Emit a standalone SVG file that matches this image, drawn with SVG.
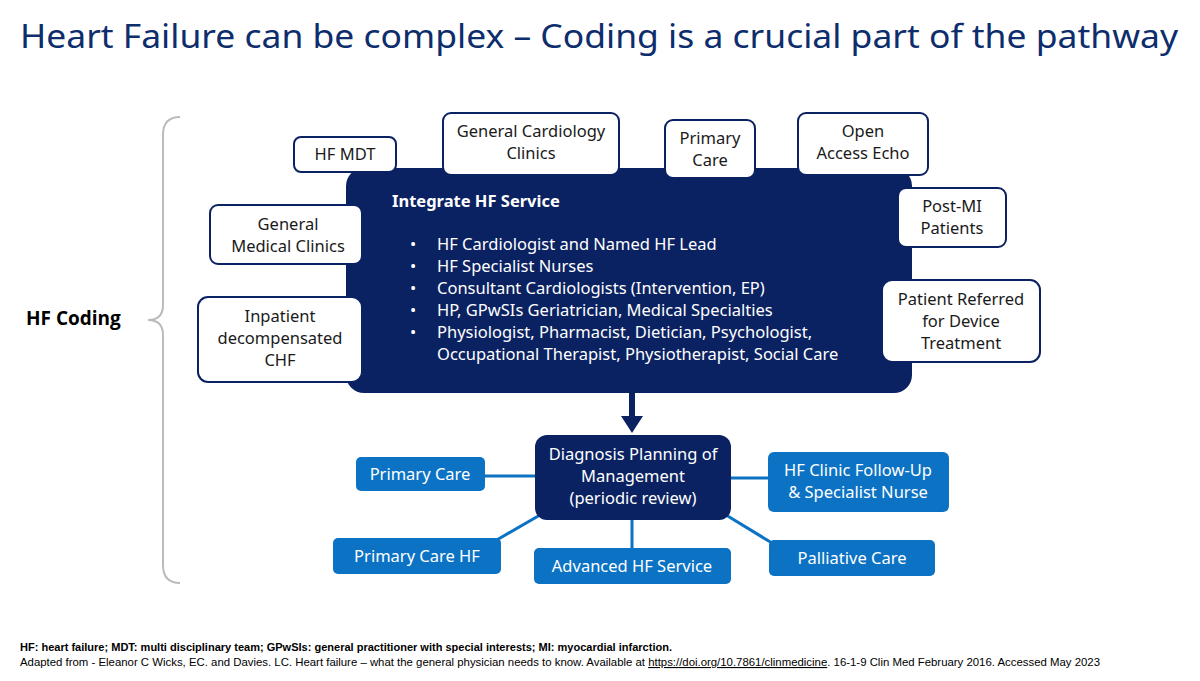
<svg xmlns="http://www.w3.org/2000/svg" width="1200" height="681" viewBox="0 0 1200 681">
<style>
text{font-family:"Noto Sans","Open Sans",sans-serif;}
.t{fill:#0d2d6c;font-size:33px}
.ob{fill:#fff;stroke:#0b2262;stroke-width:2}
.ot{fill:#1a1a1a;font-size:16.5px;text-anchor:middle}
.nv{fill:#0b2262}
.wt{fill:#fff;font-size:16.5px}
.bb{fill:#0b72c4}
.bt{fill:#fff;font-size:16.5px;text-anchor:middle}
.cn{stroke:#0b72c4;stroke-width:3;fill:none}
.ft{font-family:"Liberation Sans",sans-serif;font-size:11px;fill:#000}
</style>
<rect width="1200" height="681" fill="#fff"/>
<text class="t" x="20" y="48" textLength="1158" lengthAdjust="spacingAndGlyphs">Heart Failure can be complex – Coding is a crucial part of the pathway</text>
<path d="M180,117 Q163,117 163,135 L163,305 Q163,320 148,320 Q163,320 163,335 L163,565 Q163,583 180,583" fill="none" stroke="#bbb" stroke-width="2"/>
<text x="26" y="325" style="font-family:'Open Sans',sans-serif;font-weight:bold;font-size:19px">HF Coding</text>
<g id="connectors">
<line x1="632" y1="393" x2="632" y2="418" stroke="#0b2262" stroke-width="6"/>
<polygon points="621,416 643,416 632,433" fill="#0b2262"/>
<line class="cn" x1="485" y1="476" x2="535" y2="476"/>
<line class="cn" x1="731" y1="478" x2="768" y2="478"/>
<line class="cn" x1="540" y1="515" x2="495" y2="541"/>
<line class="cn" x1="632" y1="520" x2="632" y2="548"/>
<line class="cn" x1="726" y1="515" x2="772" y2="543"/>
</g>
<g id="integrate">
<rect class="nv" x="346" y="168" width="566" height="225" rx="18"/>
<text class="wt" x="392" y="207" font-weight="bold">Integrate HF Service</text>
<g class="wt">
<text x="410" y="250">•</text><text x="437" y="250">HF Cardiologist and Named HF Lead</text>
<text x="410" y="272">•</text><text x="437" y="272">HF Specialist Nurses</text>
<text x="410" y="294">•</text><text x="437" y="294">Consultant Cardiologists (Intervention, EP)</text>
<text x="410" y="316">•</text><text x="437" y="316">HP, GPwSIs Geriatrician, Medical Specialties</text>
<text x="410" y="338">•</text><text x="437" y="338">Physiologist, Pharmacist, Dietician, Psychologist,</text>
<text x="437" y="360">Occupational Therapist, Physiotherapist, Social Care</text>
</g>
</g>
<g id="hfmdt"><rect class="ob" x="294" y="137" width="102" height="35" rx="7"/><text class="ot" x="345" y="160">HF MDT</text></g>
<g id="gencard"><rect class="ob" x="443" y="113" width="176" height="62" rx="8"/><text class="ot" x="531" y="137">General Cardiology</text><text class="ot" x="531" y="159">Clinics</text></g>
<g id="primary"><rect class="ob" x="665" y="120" width="90" height="58" rx="8"/><text class="ot" x="710" y="144">Primary</text><text class="ot" x="710" y="166">Care</text></g>
<g id="echo"><rect class="ob" x="798" y="113" width="130" height="62" rx="8"/><text class="ot" x="863" y="137">Open</text><text class="ot" x="863" y="159">Access Echo</text></g>
<g id="genmed"><rect class="ob" x="210" y="205" width="152" height="59" rx="8"/><text class="ot" x="288" y="230">General</text><text class="ot" x="288" y="252">Medical Clinics</text></g>
<g id="postmi"><rect class="ob" x="898" y="188" width="108" height="59" rx="8"/><text class="ot" x="952" y="212">Post-MI</text><text class="ot" x="952" y="234">Patients</text></g>
<g id="inpatient"><rect class="ob" x="198" y="297" width="164" height="85" rx="10"/><text class="ot" x="280" y="322">Inpatient</text><text class="ot" x="280" y="344">decompensated</text><text class="ot" x="280" y="366">CHF</text></g>
<g id="device"><rect class="ob" x="882" y="280" width="158" height="82" rx="10"/><text class="ot" x="961" y="305">Patient Referred</text><text class="ot" x="961" y="327">for Device</text><text class="ot" x="961" y="349">Treatment</text></g>
<g id="diagnosis"><rect class="nv" x="535" y="435" width="196" height="85" rx="12"/><text class="bt" x="633" y="460">Diagnosis Planning of</text><text class="bt" x="633" y="482">Management</text><text class="bt" x="633" y="504">(periodic review)</text></g>
<g id="pc2"><rect class="bb" x="356" y="457" width="129" height="34" rx="5"/><text class="bt" x="420" y="480">Primary Care</text></g>
<g id="hfclinic"><rect class="bb" x="768" y="452" width="181" height="60" rx="6"/><text class="bt" x="858" y="476">HF Clinic Follow-Up</text><text class="bt" x="858" y="498">&amp; Specialist Nurse</text></g>
<g id="pchf"><rect class="bb" x="333" y="538" width="168" height="36" rx="5"/><text class="bt" x="417" y="562">Primary Care HF</text></g>
<g id="advanced"><rect class="bb" x="534" y="548" width="197" height="36" rx="5"/><text class="bt" x="632" y="572">Advanced HF Service</text></g>
<g id="palliative"><rect class="bb" x="769" y="540" width="166" height="36" rx="5"/><text class="bt" x="852" y="564">Palliative Care</text></g>
<text class="ft" x="20" y="651" font-weight="bold" textLength="652" lengthAdjust="spacingAndGlyphs">HF: heart failure; MDT: multi disciplinary team;  GPwSIs: general practitioner with special interests; MI: myocardial infarction.</text>
<text class="ft" x="20" y="666" textLength="1080" lengthAdjust="spacingAndGlyphs">Adapted from - Eleanor C Wicks, EC. and Davies. LC. Heart failure – what the general physician needs to know. Available at  <tspan text-decoration="underline">https://doi.org/10.7861/clinmedicine</tspan>. 16-1-9 Clin Med February 2016. Accessed May 2023</text>
</svg>
